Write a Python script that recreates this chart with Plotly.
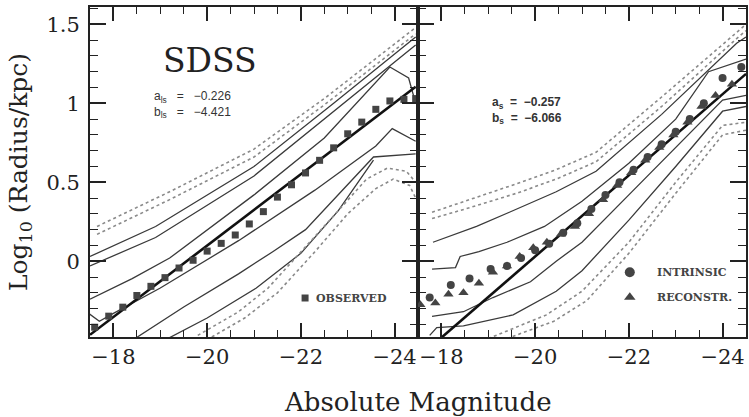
import plotly.graph_objects as go

# ---------------- data ----------------
# Left panel (SDSS observed)
fit_left_a = -0.226
fit_left_b = -4.421
fit_left_M = [-17.5, -24.45]

obs_M = [-17.6, -17.9, -18.2, -18.5, -18.8, -19.1, -19.4, -19.7, -20.0, -20.3, -20.6, -20.9,
         -21.2, -21.5, -21.8, -22.1, -22.4, -22.7, -23.0, -23.3, -23.6, -23.9, -24.2, -24.45]
obs_V = [-0.418, -0.348, -0.291, -0.217, -0.159, -0.104, -0.043, 0.006, 0.064, 0.113, 0.166, 0.236,
         0.314, 0.406, 0.484, 0.559, 0.639, 0.718, 0.807, 0.881, 0.962, 1.015, 1.025, 1.03]

L_D1_M = [-17.65, -19.2, -21.0, -22.5, -24.45]
L_D1_V = [0.22, 0.44, 0.71, 1.03, 1.48]
L_D2_M = [-17.65, -19.2, -21.0, -22.5, -24.45]
L_D2_V = [0.17, 0.39, 0.66, 0.99, 1.44]
L_S1_M = [-17.5, -18.9, -21.0, -22.7, -24.45]
L_S1_V = [0.03, 0.22, 0.60, 1.0, 1.42]
L_S2_M = [-17.5, -18.9, -21.0, -22.7, -24.45]
L_S2_V = [-0.03, 0.15, 0.54, 0.95, 1.37]
L_S3_M = [-17.5, -18.4, -19.2, -21.0, -22.5, -23.9, -24.3, -24.45]
L_S3_V = [-0.24, -0.11, 0.02, 0.42, 0.78, 1.23, 1.16, 1.0]
L_S4_M = [-17.47, -17.7, -18.0, -19.0, -20.67, -22.3, -23.6, -23.95, -24.45]
L_S4_V = [-0.33, -0.38, -0.33, -0.17, 0.13, 0.45, 0.73, 0.84, 0.76]
L_S5_M = [-18.46, -19.5, -20.67, -21.4, -22.1, -22.8, -23.55, -24.45]
L_S5_V = [-0.49, -0.29, -0.08, 0.06, 0.20, 0.42, 0.66, 0.68]
L_S6_M = [-19.16, -20.0, -21.05, -22.0, -22.8, -23.55]
L_S6_V = [-0.49, -0.36, -0.17, 0.05, 0.32, 0.64]
L_D3_M = [-19.8, -20.67, -21.3, -22.2, -22.8, -23.4, -23.85, -24.25, -24.45]
L_D3_V = [-0.47, -0.32, -0.17, 0.12, 0.32, 0.52, 0.59, 0.57, 0.5]
L_D4_M = [-20.1, -20.8, -21.5, -22.3, -23.0, -23.6, -23.97, -24.32, -24.45]
L_D4_V = [-0.48, -0.36, -0.2, 0.06, 0.30, 0.46, 0.52, 0.48, 0.40]

# Right panel (intrinsic / reconstructed)
fit_right_a = -0.257
fit_right_b = -5.11
fit_right_M = [-17.5, -24.5]

intr_M = [-17.75, -18.2, -18.6, -19.05, -19.4, -19.7, -20.0, -20.3, -20.6, -20.9, -21.2,
          -21.5, -21.8, -22.1, -22.4, -22.7, -23.0, -23.3, -23.6, -24.0, -24.4]
intr_V = [-0.23, -0.15, -0.11, -0.05, -0.03, 0.02, 0.07, 0.11, 0.18, 0.24, 0.33,
          0.42, 0.50, 0.58, 0.66, 0.74, 0.82, 0.90, 1.0, 1.16, 1.23]
reco_M = [-17.55, -17.87, -18.15, -18.47, -18.8, -19.1, -19.4, -19.67, -19.96, -20.25, -20.55,
          -20.85, -21.15, -21.45, -21.75, -22.05, -22.35, -22.65, -22.95, -23.25, -23.55, -23.85, -24.2]
reco_V = [-0.275, -0.265, -0.21, -0.2, -0.14, -0.07, -0.03, 0.03, 0.085, 0.12, 0.17,
          0.22, 0.30, 0.39, 0.48, 0.56, 0.64, 0.72, 0.80, 0.88, 0.98, 1.05, 1.12]

R_D1_M = [-17.8, -18.5, -19.6, -20.45, -21.3, -22.7, -24.3, -24.5]
R_D1_V = [0.31, 0.38, 0.49, 0.58, 0.69, 1.04, 1.45, 1.5]
R_D2_M = [-17.8, -18.5, -19.6, -20.45, -21.3, -22.7, -24.3, -24.5]
R_D2_V = [0.27, 0.33, 0.43, 0.52, 0.63, 0.98, 1.41, 1.46]
R_S1_M = [-17.82, -18.2, -18.75, -19.45, -20.45, -21.3, -22.7, -24.3, -24.5]
R_S1_V = [0.12, 0.16, 0.22, 0.31, 0.44, 0.57, 0.93, 1.38, 1.42]
R_S2_M = [-17.8, -18.3, -18.4, -18.8, -19.4, -20.2, -21.0, -22.0, -23.0, -23.7, -24.5]
R_S2_V = [-0.05, -0.04, 0.03, 0.06, 0.12, 0.22, 0.38, 0.62, 0.90, 1.20, 1.28]
R_S3_M = [-17.8, -18.47, -19.1, -19.9, -20.45, -21.0, -22.0, -23.0, -24.0, -24.5]
R_S3_V = [-0.35, -0.32, -0.23, -0.13, 0.0, 0.12, 0.42, 0.72, 1.02, 1.05]
R_S4_M = [-17.75, -17.9, -18.47, -19.53, -20.45, -21.0, -22.0, -23.0, -24.0, -24.5]
R_S4_V = [-0.47, -0.42, -0.41, -0.34, -0.19, -0.06, 0.26, 0.60, 0.95, 0.98]
R_D3_M = [-19.0, -20.24, -21.0, -22.0, -23.0, -24.0, -24.5]
R_D3_V = [-0.49, -0.34, -0.19, 0.12, 0.50, 0.86, 0.88]
R_D4_M = [-19.4, -20.4, -21.1, -22.0, -23.0, -24.0, -24.5]
R_D4_V = [-0.49, -0.38, -0.25, 0.05, 0.43, 0.80, 0.83]

x_ticks = [-18, -20, -22, -24]
y_ticks = [0, 0.5, 1, 1.5]

# ---------------- styling ----------------
SERIF = "DejaVu Serif"
SANS = "Liberation Sans"
SOLID = "#3a3a3a"
DOT = "#8a8a8a"
MARK = "#444444"
NB = "&nbsp;"

fig = go.Figure()


def add_line(M, V, xa, ya, dotted=False):
    fig.add_trace(go.Scatter(
        x=M, y=V, xaxis=xa, yaxis=ya, mode="lines", showlegend=False, hoverinfo="skip",
        line=dict(color=DOT if dotted else SOLID, width=1.6 if dotted else 1.3,
                  dash="dot" if dotted else "solid")))


for M, V, d in [(L_D1_M, L_D1_V, True), (L_D2_M, L_D2_V, True), (L_S1_M, L_S1_V, False),
                (L_S2_M, L_S2_V, False), (L_S3_M, L_S3_V, False), (L_S4_M, L_S4_V, False),
                (L_S5_M, L_S5_V, False), (L_S6_M, L_S6_V, False), (L_D3_M, L_D3_V, True),
                (L_D4_M, L_D4_V, True)]:
    add_line(M, V, "x", "y", d)

for M, V, d in [(R_D1_M, R_D1_V, True), (R_D2_M, R_D2_V, True), (R_S1_M, R_S1_V, False),
                (R_S2_M, R_S2_V, False), (R_S3_M, R_S3_V, False), (R_S4_M, R_S4_V, False),
                (R_D3_M, R_D3_V, True), (R_D4_M, R_D4_V, True)]:
    add_line(M, V, "x2", "y2", d)

# fit lines
fig.add_trace(go.Scatter(x=fit_left_M, y=[fit_left_a * m + fit_left_b for m in fit_left_M],
                         xaxis="x", yaxis="y", mode="lines", showlegend=False,
                         line=dict(color="#111111", width=2.6)))
fig.add_trace(go.Scatter(x=fit_right_M, y=[fit_right_a * m + fit_right_b for m in fit_right_M],
                         xaxis="x2", yaxis="y2", mode="lines", showlegend=False,
                         line=dict(color="#111111", width=2.6)))

# markers
fig.add_trace(go.Scatter(x=obs_M, y=obs_V, xaxis="x", yaxis="y", mode="markers", showlegend=False,
                         marker=dict(symbol="square", size=7, color=MARK)))
fig.add_trace(go.Scatter(x=intr_M, y=intr_V, xaxis="x2", yaxis="y2", mode="markers", showlegend=False,
                         marker=dict(symbol="circle", size=8, color=MARK)))
fig.add_trace(go.Scatter(x=reco_M, y=reco_V, xaxis="x2", yaxis="y2", mode="markers", showlegend=False,
                         marker=dict(symbol="triangle-up", size=9, color=MARK)))

# legend keys drawn inside panels
fig.add_trace(go.Scatter(x=[-22.09], y=[-0.233], xaxis="x", yaxis="y", mode="markers", showlegend=False,
                         marker=dict(symbol="square", size=7, color=MARK)))
fig.add_trace(go.Scatter(x=[-22.02], y=[-0.07], xaxis="x2", yaxis="y2", mode="markers", showlegend=False,
                         marker=dict(symbol="circle", size=10, color=MARK)))
fig.add_trace(go.Scatter(x=[-22.02], y=[-0.228], xaxis="x2", yaxis="y2", mode="markers", showlegend=False,
                         marker=dict(symbol="triangle-up", size=10, color=MARK)))

annotations = [
    dict(x=-20.06, y=1.27, xref="x", yref="y", text="SDSS", showarrow=False,
         font=dict(family=SERIF, size=33, color="#222")),
    dict(x=-18.82, y=0.995, xref="x", yref="y",
         text="a<sub>ls</sub>" + NB * 3 + "=" + NB * 3 + "−0.226<br>"
              "b<sub>ls</sub>" + NB * 3 + "=" + NB * 3 + "−4.421",
         showarrow=False, align="left",
         xanchor="left", yanchor="middle", font=dict(family=SANS, size=12, color="#333")),
    dict(x=-19.04, y=0.955, xref="x2", yref="y2",
         text="<b>a<sub>s</sub>" + NB * 2 + "=" + NB * 2 + "−0.257<br>"
              "b<sub>s</sub>" + NB * 2 + "=" + NB * 2 + "−6.066</b>",
         showarrow=False, align="left",
         xanchor="left", yanchor="middle", font=dict(family=SANS, size=12, color="#333")),
    dict(x=-22.28, y=-0.233, xref="x", yref="y", text="<b>OBSERVED</b>", showarrow=False,
         xanchor="left", font=dict(family=SERIF, size=11, color="#444")),
    dict(x=-22.56, y=-0.07, xref="x2", yref="y2", text="<b>INTRINSIC</b>", showarrow=False,
         xanchor="left", font=dict(family=SERIF, size=11, color="#444")),
    dict(x=-22.56, y=-0.228, xref="x2", yref="y2", text="<b>RECONSTR.</b>", showarrow=False,
         xanchor="left", font=dict(family=SERIF, size=11, color="#444")),
    dict(x=0.5, y=-0.197, xref="paper", yref="paper", text="Absolute Magnitude", showarrow=False,
         yanchor="middle", font=dict(family=SERIF, size=26, color="#222")),
]

xcommon = dict(range=[-17.5, -24.5], tickmode="array", tickvals=x_ticks, automargin=False,
               ticks="inside", ticklen=14, tickwidth=1.5, tickcolor="#222",
               showline=True, linecolor="#222", linewidth=1.8, mirror="allticks",
               showgrid=False, zeroline=False,
               minor=dict(dtick=0.5, tick0=-18, ticks="inside", ticklen=7, tickwidth=1.2,
                          tickcolor="#222", showgrid=False),
               tickfont=dict(family=SERIF, size=21, color="#222"))
ycommon = dict(range=[-0.48, 1.61], tickmode="array", tickvals=y_ticks, automargin=False,
               ticks="inside", ticklen=16, tickwidth=1.5, tickcolor="#222",
               showline=True, linecolor="#222", linewidth=1.8, mirror="allticks",
               showgrid=False, zeroline=False,
               minor=dict(dtick=0.1, tick0=0, ticks="inside", ticklen=8, tickwidth=1.2,
                          tickcolor="#222", showgrid=False),
               tickfont=dict(family=SERIF, size=21, color="#222"))

fig.update_layout(
    width=749, height=417,
    margin=dict(l=90, r=3, t=7, b=80),
    paper_bgcolor="white", plot_bgcolor="white",
    xaxis=dict(domain=[0, 0.5], anchor="y", **xcommon),
    xaxis2=dict(domain=[0.5, 1], anchor="y2", **xcommon),
    yaxis=dict(domain=[0, 1], anchor="x", ticklabelstandoff=4,
               title=dict(text="Log<sub>10</sub> (Radius/kpc)", standoff=12,
                          font=dict(family=SERIF, size=25, color="#222")),
               **ycommon),
    yaxis2=dict(domain=[0, 1], anchor="x2", showticklabels=False, **ycommon),
    annotations=annotations,
    showlegend=False,
)

fig.write_html("out.html", config={"displayModeBar": False},
               post_script="document.body.style.margin='0';document.body.style.overflow='hidden';")
